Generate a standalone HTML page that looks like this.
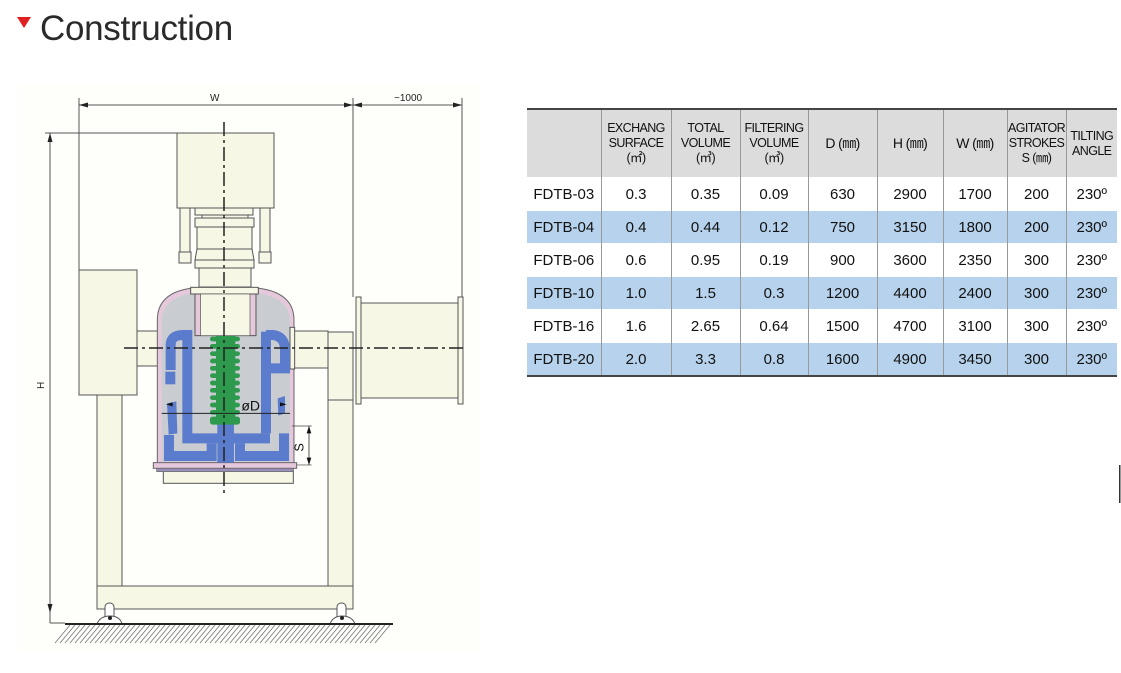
<!DOCTYPE html>
<html><head><meta charset="utf-8">
<style>
body{margin:0;width:1121px;height:673px;background:#fff;position:relative;overflow:hidden;font-family:"Liberation Sans",sans-serif}
.title{position:absolute;left:40px;top:9px;font-size:35px;color:#2a2a2a;letter-spacing:-0.3px}
.tri{position:absolute;left:17px;top:17px;width:0;height:0;border-left:7px solid transparent;border-right:7px solid transparent;border-top:11px solid #e02020}
table{position:absolute;left:527px;top:108px;border-collapse:collapse;border-top:2px solid #444;border-bottom:2px solid #444;font-size:15px;color:#111}
td{text-align:center;padding:0;border-left:1px solid #999;height:32px}
td:first-child{border-left:none}
tr.h td{background:#dcdcdc;height:67px;font-size:12.5px;line-height:15px;letter-spacing:-0.6px}
tr.b td{background:#b6d2ec}
tr.w td{background:#fff}
tr.b td, tr.w td{border-top:1px solid #fff}
</style></head><body>
<div class="tri"></div>
<div class="title">Construction</div>
<svg width="1121" height="673" style="position:absolute;left:0;top:0">
<rect x="18" y="84" width="462" height="568" fill="#fefefb"/>
<g stroke="#555" stroke-width="1" fill="#f7f7e6">
<line x1="79" y1="105" x2="353" y2="105"/>
<line x1="353" y1="105" x2="462" y2="105"/>
<line x1="79" y1="98" x2="79" y2="270"/>
<line x1="353" y1="98" x2="353" y2="297"/>
<line x1="462" y1="98" x2="462" y2="297"/>
<line x1="45" y1="133" x2="177" y2="133"/>
<line x1="50" y1="133" x2="50" y2="623"/>
<line x1="50" y1="623" x2="65" y2="623"/>
<rect x="97" y="395" width="25" height="191"/>
<rect x="328" y="332" width="25" height="254"/>
<rect x="97" y="586" width="256" height="23"/>
<rect x="79" y="270" width="58" height="125"/>
<rect x="137" y="331" width="22" height="35"/>
<rect x="294" y="331" width="34" height="37"/>
<line x1="328" y1="400" x2="353" y2="400"/>
<rect x="361" y="303" width="97" height="95"/>
<rect x="356" y="297" width="5" height="107"/>
<rect x="458" y="297" width="5" height="107"/>
<rect x="177" y="133" width="97" height="75"/>
<rect x="180" y="208" width="10" height="44"/><rect x="179" y="252" width="12" height="11"/>
<rect x="260" y="208" width="10" height="44"/><rect x="259" y="252" width="12" height="11"/>
<rect x="195" y="208" width="58" height="7"/>
<rect x="202" y="215" width="46" height="3"/>
<rect x="195" y="218" width="59" height="9"/>
<rect x="197" y="227" width="55" height="22"/>
<path d="M197,249 L252,249 L254,260 L195,260 Z"/>
<rect x="195" y="260" width="59" height="8"/>
<rect x="199" y="268" width="52" height="19"/>
<rect x="105" y="603" width="9" height="18" rx="4" fill="#fff"/>
<rect x="337" y="603" width="9" height="18" rx="4" fill="#fff"/>
<path d="M97,624 Q100,616 110,616 Q120,616 122,624" fill="#fff"/>
<path d="M330,624 Q333,616 342,616 Q352,616 355,624" fill="#fff"/>
</g>
<circle cx="110" cy="618" r="2" fill="#222"/><circle cx="342" cy="618" r="2" fill="#222"/>
<line x1="65" y1="624" x2="393" y2="624" stroke="#222" stroke-width="2"/>
<g stroke="#777" stroke-width="0.8">
<path d="M55,643 l15,-18 M60,643 l15,-18 M65,643 l15,-18 M70,643 l15,-18 M75,643 l15,-18 M80,643 l15,-18 M85,643 l15,-18 M90,643 l15,-18 M95,643 l15,-18 M100,643 l15,-18 M105,643 l15,-18 M110,643 l15,-18 M115,643 l15,-18 M120,643 l15,-18 M125,643 l15,-18 M130,643 l15,-18 M135,643 l15,-18 M140,643 l15,-18 M145,643 l15,-18 M150,643 l15,-18 M155,643 l15,-18 M160,643 l15,-18 M165,643 l15,-18 M170,643 l15,-18 M175,643 l15,-18 M180,643 l15,-18 M185,643 l15,-18 M190,643 l15,-18 M195,643 l15,-18 M200,643 l15,-18 M205,643 l15,-18 M210,643 l15,-18 M215,643 l15,-18 M220,643 l15,-18 M225,643 l15,-18 M230,643 l15,-18 M235,643 l15,-18 M240,643 l15,-18 M245,643 l15,-18 M250,643 l15,-18 M255,643 l15,-18 M260,643 l15,-18 M265,643 l15,-18 M270,643 l15,-18 M275,643 l15,-18 M280,643 l15,-18 M285,643 l15,-18 M290,643 l15,-18 M295,643 l15,-18 M300,643 l15,-18 M305,643 l15,-18 M310,643 l15,-18 M315,643 l15,-18 M320,643 l15,-18 M325,643 l15,-18 M330,643 l15,-18 M335,643 l15,-18 M340,643 l15,-18 M345,643 l15,-18 M350,643 l15,-18 M355,643 l15,-18 M360,643 l15,-18 M365,643 l15,-18 M370,643 l15,-18 M375,643 l15,-18"/>
</g>
<g transform="translate(130,270) scale(0.3333)">
<rect x="100" y="600" width="390" height="40" fill="#f7f7e6" stroke="#555" stroke-width="3"/>
<path d="M82,580 L82,150 Q82,70 180,55 L390,55 Q492,70 492,150 L492,580 Z" fill="#e6c8dc" stroke="#666" stroke-width="3"/>
<path d="M95,575 L95,155 Q95,85 185,70 L385,70 Q480,85 480,155 L480,575 Z" fill="#c9cdd2"/>
<rect x="70" y="578" width="430" height="17" fill="#e6c8dc" stroke="#666" stroke-width="3"/>
<rect x="80" y="595" width="410" height="10" fill="#9a8fb8" stroke="#666" stroke-width="2"/>
<rect x="182" y="52" width="203" height="20" fill="#f7f7e6" stroke="#555" stroke-width="3"/>
<rect x="195" y="72" width="183" height="125" fill="#e6c8dc" stroke="#555" stroke-width="3"/>
<rect x="212" y="72" width="148" height="125" fill="#f7f7e6" stroke="#555" stroke-width="2"/>
<rect x="480" y="172" width="14" height="125" fill="#f7f7e6" stroke="#555" stroke-width="3"/>
<g fill="none" stroke="#5b7ccc" stroke-width="30">
<path d="M122,300 L122,225 Q122,195 160,195 L172,195 L172,505 L420,505"/>
<path d="M408,195 L430,195 Q465,200 465,240 L465,295 L420,295"/>
<path d="M408,185 L408,490"/>
<path d="M117,495 L117,558 L245,558 L245,520"/>
<path d="M330,520 L330,558 L462,558 L462,490"/>
</g>
<g fill="#5b7ccc">
<rect x="262" y="460" width="50" height="118"/>
<rect x="106" y="305" width="30" height="38"/>
<path d="M111,400 L139,394 L142,490 L116,494 Z"/>
<path d="M443,385 L465,378 L465,430 L445,437 Z"/>
</g>
<g fill="#2e9a4e">
<rect x="258" y="198" width="58" height="265"/>
<rect x="240" y="200" width="90" height="14" rx="7"/><rect x="240" y="222" width="90" height="14" rx="7"/>
<rect x="240" y="244" width="90" height="14" rx="7"/><rect x="240" y="266" width="90" height="14" rx="7"/>
<rect x="240" y="288" width="90" height="14" rx="7"/><rect x="240" y="310" width="90" height="14" rx="7"/>
<rect x="240" y="332" width="90" height="14" rx="7"/><rect x="240" y="354" width="90" height="14" rx="7"/>
<rect x="240" y="376" width="90" height="14" rx="7"/><rect x="240" y="398" width="90" height="14" rx="7"/>
<rect x="240" y="420" width="90" height="14" rx="7"/><rect x="240" y="440" width="90" height="24" rx="8"/>
</g>
<line x1="95" y1="430" x2="480" y2="430" stroke="#222" stroke-width="3"/>
<path d="M108,403 L128,397 L128,409 Z M470,403 L450,397 L450,409 Z" fill="#111"/>
<text x="334" y="422" font-size="42" fill="#111" font-family="Liberation Sans">øD</text>
<line x1="486" y1="468" x2="545" y2="468" stroke="#444" stroke-width="2"/>
<line x1="500" y1="585" x2="545" y2="585" stroke="#444" stroke-width="2"/>
<line x1="537" y1="468" x2="537" y2="585" stroke="#333" stroke-width="2.5"/>
<path d="M537,468 L530,490 L544,490 Z M537,585 L530,563 L544,563 Z" fill="#111"/>
<text x="0" y="0" font-size="38" fill="#111" transform="translate(520,545) rotate(-90)">S</text>
</g>
<line x1="224" y1="122" x2="224" y2="493" stroke="#222" stroke-width="1.5" stroke-dasharray="14,4,3,4"/>
<line x1="124" y1="348" x2="467" y2="348" stroke="#222" stroke-width="1.5" stroke-dasharray="14,4,3,4"/>
<g fill="#222">
<path d="M79,105 l9,-2.5 v5z M353,105 l-9,-2.5 v5z M353,105 l9,-2.5 v5z M462,105 l-9,-2.5 v5z M50,133 l-2.5,9 h5z M50,613 l-2.5,-9 h5z"/>
</g>
<text x="210" y="101" font-size="10" fill="#222">W</text>
<text x="394" y="101" font-size="10" fill="#222">~1000</text>
<text x="0" y="0" font-size="10" fill="#222" transform="translate(44,389) rotate(-90)">H</text>
<rect x="1119" y="465" width="1.5" height="38" fill="#333"/>
</svg>
<table>
<colgroup><col style="width:74px"><col style="width:70px"><col style="width:69px"><col style="width:68px"><col style="width:69px"><col style="width:66px"><col style="width:64px"><col style="width:59px"><col style="width:51px"></colgroup>
<tr class="h"><td></td><td>EXCHANG<br>SURFACE<br>(㎡)</td><td>TOTAL<br>VOLUME<br>(㎥)</td><td>FILTERING<br>VOLUME<br>(㎥)</td><td style="font-size:14px">D (㎜)</td><td style="font-size:14px">H (㎜)</td><td style="font-size:14px">W (㎜)</td><td>AGITATOR<br>STROKES<br>S (㎜)</td><td>TILTING<br>ANGLE</td></tr>
<tr class="w"><td>FDTB-03</td><td>0.3</td><td>0.35</td><td>0.09</td><td>630</td><td>2900</td><td>1700</td><td>200</td><td>230º</td></tr>
<tr class="b"><td>FDTB-04</td><td>0.4</td><td>0.44</td><td>0.12</td><td>750</td><td>3150</td><td>1800</td><td>200</td><td>230º</td></tr>
<tr class="w"><td>FDTB-06</td><td>0.6</td><td>0.95</td><td>0.19</td><td>900</td><td>3600</td><td>2350</td><td>300</td><td>230º</td></tr>
<tr class="b"><td>FDTB-10</td><td>1.0</td><td>1.5</td><td>0.3</td><td>1200</td><td>4400</td><td>2400</td><td>300</td><td>230º</td></tr>
<tr class="w"><td>FDTB-16</td><td>1.6</td><td>2.65</td><td>0.64</td><td>1500</td><td>4700</td><td>3100</td><td>300</td><td>230º</td></tr>
<tr class="b"><td>FDTB-20</td><td>2.0</td><td>3.3</td><td>0.8</td><td>1600</td><td>4900</td><td>3450</td><td>300</td><td>230º</td></tr>
</table>
</body></html>
